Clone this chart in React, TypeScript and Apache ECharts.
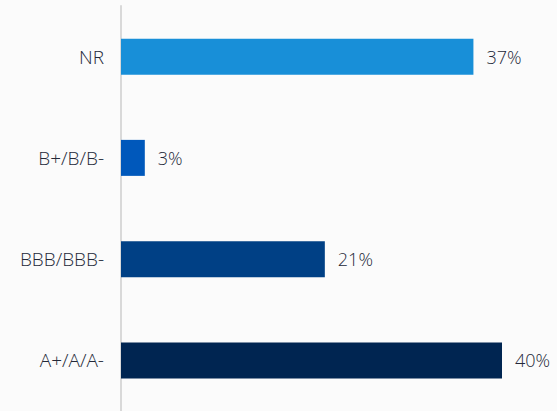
import React, { useEffect, useRef } from "react";
import * as echarts from "echarts";

const categories = ["NR", "B+/B/B-", "BBB/BBB-", "A+/A/A-"];
const shares = [37, 2.5, 21.4, 40];
const barColors = ["#188fd8", "#0058bb", "#004085", "#002551"];

export default function App() {
  const ref = useRef<HTMLDivElement>(null);
  useEffect(() => {
    if (!ref.current) return;
    const chart = echarts.init(ref.current, undefined, { renderer: "svg" });
    const textColor = "#232838";
    const font = "'Open Sans', sans-serif";
    chart.setOption({
      animation: false,
      backgroundColor: "#fbfbfb",
      grid: { left: 121, right: 55, top: 6, bottom: 0, containLabel: false },
      xAxis: {
        type: "value",
        min: 0,
        max: 40,
        show: false,
      },
      yAxis: {
        type: "category",
        data: categories,
        inverse: true,
        axisLine: { show: true, lineStyle: { color: "#d9d9d9", width: 2 } },
        axisTick: { show: false },
        axisLabel: {
          color: textColor,
          fontSize: 19,
          fontFamily: font,
          fontWeight: 300,
          margin: 17,
        },
      },
      series: [
        {
          type: "bar",
          barWidth: 36,
          data: shares.map((v, i) => ({ value: v, itemStyle: { color: barColors[i] } })),
          label: {
            show: true,
            position: "right",
            distance: 13,
            color: textColor,
            fontSize: 18,
            fontFamily: font,
            fontWeight: 300,
            formatter: (p: any) => `${Math.round(p.value)}%`,
          },
        },
      ],
    });
    return () => chart.dispose();
  }, []);
  return (
    <div
      ref={ref}
      style={{ position: "absolute", left: 0, top: 0, width: 557, height: 411 }}
    />
  );
}
